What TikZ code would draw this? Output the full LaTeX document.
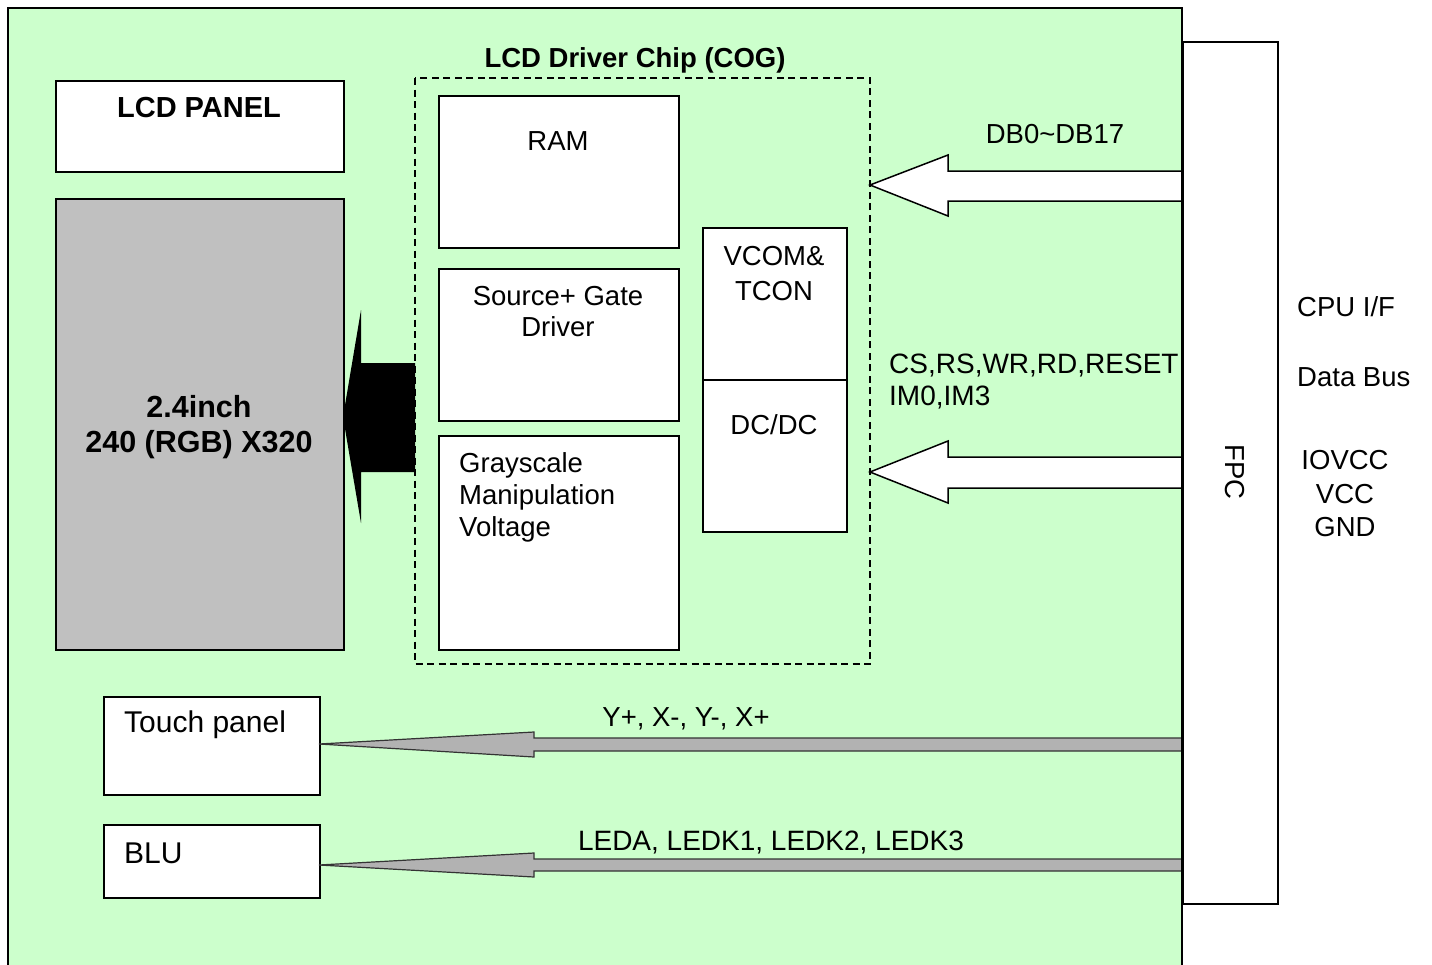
\documentclass[tikz,border=0pt]{standalone}
\usepackage{fontspec}
\setmainfont{Liberation Sans}
\begin{document}
\begin{tikzpicture}[x=1pt,y=-1pt,
  box/.style={draw=black,line width=1.5pt,fill=white,anchor=north west,inner sep=0pt},
  txt/.style={inner sep=0pt,font=\fontsize{27.5}{32}\selectfont},
  btxt/.style={txt,font=\fontsize{27.5}{32}\selectfont\bfseries},
  ltxt/.style={inner sep=0pt,font=\fontsize{30}{34}\selectfont},
  bigarrow/.style={draw=black,line width=1.5pt,fill=white,line join=miter},
  grayarrow/.style={draw=black!80,line width=1.2pt,fill=black!30,line join=miter}]
\useasboundingbox (0,0) rectangle (1432,964);
% background board
\fill[fill={rgb,255:red,204;green,255;blue,204}] (8,8) rectangle (1182,970);
\draw[line width=2pt] (8,970) -- (8,8) -- (1182,8) -- (1182,970);
% FPC
\node[box,minimum width=95pt,minimum height=862pt] (fpc) at (1182,41) {};
\node[txt,rotate=-90] (fpct) at (1235,472) {FPC};
\node[txt,anchor=west] (cpu) at (1297,307) {CPU I/F};
\node[txt,anchor=west] (dbus) at (1297,377) {Data Bus};
\node[txt,align=center,font=\fontsize{27.5}{33.5}\selectfont] (pwr) at (1345,494) {IOVCC\\VCC\\GND};
% LCD panel
\node[box,minimum width=288pt,minimum height=91pt] (lcdp) at (55,80) {};
\node[inner sep=0pt,font=\fontsize{29}{32}\selectfont\bfseries] (lcdpt) at (199,108) {LCD PANEL};
\node[box,fill={rgb,255:red,192;green,192;blue,192},minimum width=288pt,minimum height=451pt] (panel) at (55,198) {};
\node[inner sep=0pt,align=center,font=\fontsize{30.5}{35.5}\selectfont\bfseries] (panelt) at (199,427) {2.4inch\\240 (RGB) X320};
% driver chip
\draw[line width=1.5pt,dash pattern=on 7pt off 4.5pt] (415,78) rectangle (870,664);
\node[btxt] (chipt) at (635,60) {LCD Driver Chip (COG)};
\node[box,minimum width=240pt,minimum height=152pt] (ram) at (438,95) {};
\node[txt] (ramt) at (558,141) {RAM};
\node[box,minimum width=240pt,minimum height=152pt] (src) at (438,268) {};
\node[txt,align=center,font=\fontsize{27.5}{31}\selectfont] (srct) at (558,312) {Source+ Gate\\Driver};
\node[box,minimum width=240pt,minimum height=214pt] (gray) at (438,435) {};
\node[txt,align=left,anchor=north west] (grayt) at (459,452) {Grayscale\\Manipulation\\Voltage};
\node[box,minimum width=144pt,minimum height=152pt] (vcom) at (702,227) {};
\node[txt,align=center,font=\fontsize{27.5}{35}\selectfont] (vcomt) at (774,273.5) {VCOM\&\\TCON};
\node[box,minimum width=144pt,minimum height=152pt] (dcdc) at (702,379) {};
\node[txt] (dcdct) at (774,425) {DC/DC};
% black arrow to panel
\fill[black] (343,417) -- (361,310) -- (361,363) -- (415,363) -- (415,472) -- (361,472) -- (361,523) -- cycle;
% data bus arrows
\draw[bigarrow] (1182,171) -- (948,171) -- (948,155) -- (870,185) -- (948,216) -- (948,201) -- (1182,201);
\node[txt] (dbt) at (1055,134) {DB0\textasciitilde DB17};
\draw[bigarrow] (1182,457) -- (948,457) -- (948,441) -- (870,472) -- (948,503) -- (948,488) -- (1182,488);
\node[txt,align=left,anchor=north west,font=\fontsize{28}{32}\selectfont] (ctlt) at (889,354) {CS,RS,WR,RD,RESET\\IM0,IM3};
% touch panel and BLU
\node[box,minimum width=216pt,minimum height=98pt] (touch) at (103,696) {};
\node[ltxt,anchor=west] (toucht) at (124,725) {Touch panel};
\node[box,minimum width=216pt,minimum height=73pt] (blu) at (103,824) {};
\node[ltxt,anchor=west] (blut) at (124,853) {BLU};
\draw[grayarrow] (1182,738) -- (534,738) -- (534,732) -- (319,744) -- (534,757) -- (534,751) -- (1182,751);
\node[txt] (tpt) at (686,719) {Y+, X-, Y-, X+};
\draw[grayarrow] (1182,859) -- (534,859) -- (534,853) -- (319,865) -- (534,877) -- (534,871) -- (1182,871);
\node[txt,font=\fontsize{28}{32}\selectfont] (ledt) at (771,843) {LEDA, LEDK1, LEDK2, LEDK3};
\draw[line width=2pt] (1182,8) -- (1182,970);
\end{tikzpicture}
\end{document}
